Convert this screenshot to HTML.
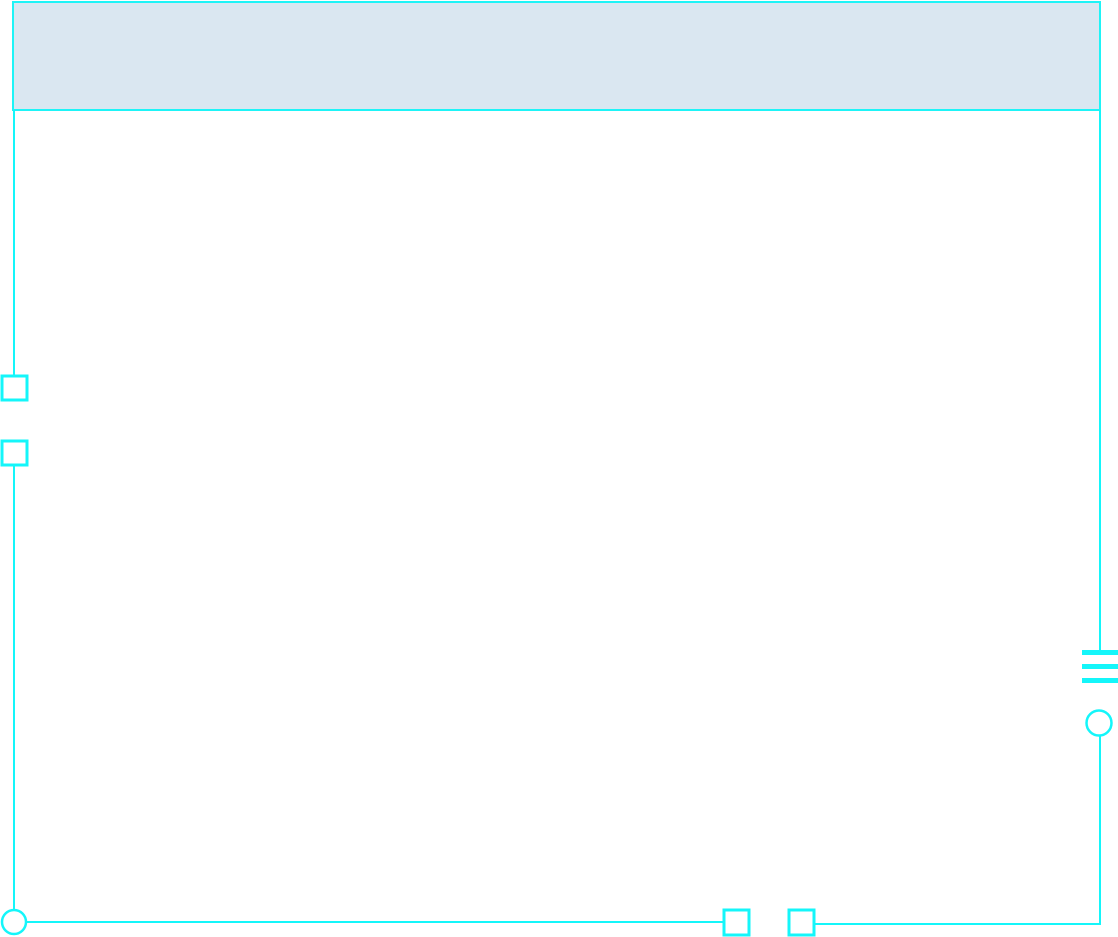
<!DOCTYPE html>
<html><head><meta charset="utf-8"><style>html,body{margin:0;padding:0;background:#fff;}svg{display:block}</style></head>
<body>
<svg width="1118" height="937" viewBox="0 0 1118 937" xmlns="http://www.w3.org/2000/svg">
<rect x="13" y="2" width="1087" height="108" fill="#dae7f1" stroke="#1ef4f7" stroke-width="2"/>
<g fill="none" stroke="#14f6fa" stroke-width="2">
<line x1="14" y1="110" x2="14" y2="376"/>
<line x1="14" y1="465" x2="14" y2="910"/>
<line x1="26" y1="922" x2="724" y2="922"/>
<line x1="1100" y1="110" x2="1100" y2="650"/>
<polyline points="1100,735 1100,924 814,924"/>
</g>
<g fill="#fff" stroke="#14f6fa" stroke-width="3">
<rect x="2" y="376" width="25" height="24"/>
<rect x="2" y="441" width="25" height="24"/>
<rect x="724" y="910" width="25" height="25"/>
<rect x="789" y="910" width="25" height="25"/>
<circle cx="14" cy="922" r="12" stroke-width="2.5"/>
<circle cx="1099" cy="723" r="12.5" stroke-width="2.5"/>
</g>
<g fill="#14f6fa">
<rect x="1082" y="650" width="36" height="5"/>
<rect x="1082" y="664" width="36" height="5"/>
<rect x="1082" y="678" width="36" height="5"/>
</g>
</svg>
</body></html>
